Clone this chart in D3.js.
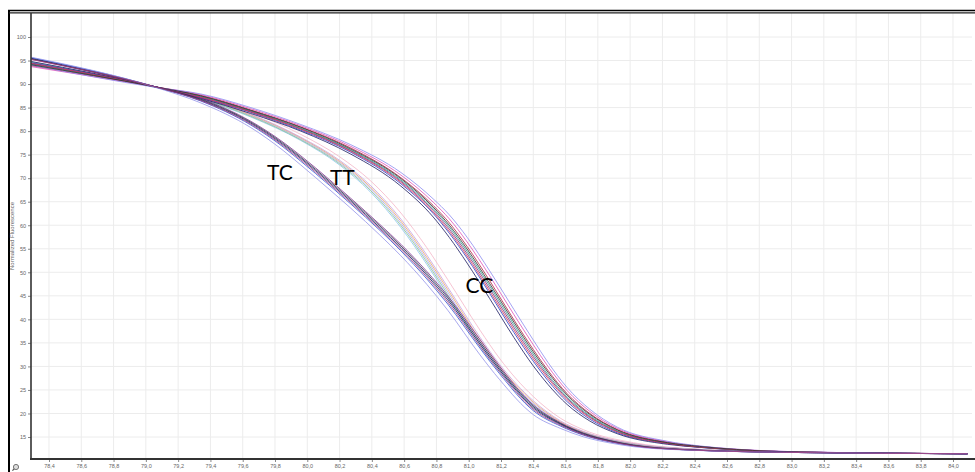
<!DOCTYPE html>
<html>
<head>
<meta charset="utf-8">
<script src="https://cdn.jsdelivr.net/npm/d3@7"></script>
<style>
  body { margin: 0; background: #fff; }
  svg { display: block; }
</style>
</head>
<body>
<svg id="chart" width="975" height="472"></svg>
<script>
// Axis tick values
const xTicks = [78.4, 78.6, 78.8, 79.0, 79.2, 79.4, 79.6, 79.8, 80.0, 80.2, 80.4, 80.6, 80.8,
                81.0, 81.2, 81.4, 81.6, 81.8, 82.0, 82.2, 82.4, 82.6, 82.8, 83.0, 83.2, 83.4,
                83.6, 83.8, 84.0];
const yTicks = [15, 20, 25, 30, 35, 40, 45, 50, 55, 60, 65, 70, 75, 80, 85, 90, 95, 100];

// Genotype CC melt curves (temperature °C -> normalized fluorescence)
const ccTemps = [78.29, 79.06, 79.34, 79.65, 79.96, 80.27, 80.58, 80.78, 80.88, 80.99, 81.13,
                 81.28, 81.40, 81.49, 81.61, 81.75, 81.92, 82.23, 82.43, 82.66, 83.05, 84.09];
const cc1 = [93.9, 89.4, 87.6, 84.5, 80.9, 76.4, 70.1, 64.2, 60.5, 55.5, 48.2, 39.9, 33.6, 29.2, 24.2, 20.0, 16.6, 13.9, 13.0, 12.35, 11.8, 11.45];
const cc2 = [94.5, 89.4, 87.1, 84.0, 80.2, 75.5, 68.8, 62.5, 58.3, 53.0, 45.5, 37.2, 31.1, 27.0, 22.5, 18.8, 15.9, 13.6, 12.8, 12.3, 11.8, 11.45];
const cc3 = [94.3, 89.4, 87.3, 84.2, 80.5, 75.85, 69.35, 63.15, 59.15, 53.95, 46.55, 38.3, 32.1, 27.9, 23.2, 19.3, 16.2, 13.7, 12.9, 12.3, 11.8, 11.45];
const cc4 = [93.7, 89.4, 87.75, 84.75, 81.15, 76.75, 70.65, 64.9, 61.35, 56.45, 49.25, 41.0, 34.6, 30.05, 24.85, 20.45, 16.85, 14.0, 13.05, 12.4, 11.85, 11.45];
const cc5 = [94.8, 89.4, 86.95, 83.75, 80.0, 75.1, 68.3, 61.75, 57.4, 51.95, 44.4, 36.15, 30.1, 26.2, 21.9, 18.4, 15.7, 13.45, 12.8, 12.25, 11.75, 11.45];
const cc6 = [94.2, 89.4, 87.4, 84.3, 80.6, 76.0, 69.6, 63.5, 59.6, 54.45, 47.1, 38.85, 32.6, 28.3, 23.5, 19.5, 16.3, 13.75, 12.9, 12.3, 11.8, 11.45];
const cc7 = [94.0, 89.3, 87.9, 85.0, 81.4, 77.1, 71.2, 65.6, 62.2, 57.45, 50.3, 42.1, 35.6, 30.9, 25.5, 20.9, 17.1, 14.1, 13.1, 12.4, 11.85, 11.45];
const cc8 = [94.4, 89.4, 87.2, 84.1, 80.4, 75.7, 69.1, 62.8, 58.7, 53.45, 46.0, 37.75, 31.6, 27.5, 22.9, 19.1, 16.1, 13.65, 12.85, 12.3, 11.8, 11.45];
const cc9 = [94.1, 89.4, 87.5, 84.4, 80.8, 76.2, 69.9, 63.85, 60.0, 54.95, 47.6, 39.4, 33.1, 28.8, 23.9, 19.8, 16.5, 13.8, 13.0, 12.35, 11.8, 11.45];

// Genotype TC melt curves
const tcTemps = [78.29, 79.06, 79.34, 79.65, 79.85, 79.96, 80.14, 80.27, 80.45, 80.58, 80.74,
                 80.87, 81.07, 81.19, 81.40, 81.57, 81.71, 81.88, 82.02, 82.33, 83.05, 84.09];
const tc1 = [95.5, 89.4, 86.6, 81.7, 77.15, 74.2, 69.0, 65.1, 59.5, 55.25, 49.4, 44.15, 34.75, 29.3, 21.2, 17.7, 15.6, 14.1, 13.2, 12.3, 11.7, 11.45];
const tc2 = [95.3, 89.4, 86.9, 82.1, 77.65, 74.75, 69.6, 65.7, 60.15, 55.95, 50.2, 45.0, 35.7, 30.1, 21.8, 18.0, 15.85, 14.2, 13.3, 12.35, 11.7, 11.45];
const tc3 = [95.6, 89.4, 86.4, 81.3, 76.65, 73.6, 68.4, 64.5, 58.9, 54.55, 48.6, 43.25, 33.85, 28.5, 20.6, 17.3, 15.4, 13.9, 13.1, 12.3, 11.7, 11.45];
const tc4 = [95.4, 89.4, 86.75, 81.9, 77.4, 74.45, 69.3, 65.4, 59.85, 55.6, 49.8, 44.6, 35.2, 29.7, 21.5, 17.85, 15.75, 14.15, 13.25, 12.35, 11.7, 11.45];
const tc5 = [95.7, 89.3, 86.0, 80.75, 75.9, 72.8, 67.5, 63.6, 57.9, 53.5, 47.45, 41.95, 32.45, 27.25, 19.75, 16.8, 15.05, 13.7, 12.95, 12.25, 11.7, 11.45];
const tc6 = [95.2, 89.4, 86.5, 81.5, 76.9, 73.9, 68.7, 64.8, 59.2, 54.9, 49.0, 43.7, 34.3, 28.9, 20.9, 17.5, 15.5, 14.0, 13.15, 12.3, 11.7, 11.45];

// Genotype TT melt curves
const ttTemps = [78.29, 79.06, 79.34, 79.65, 79.96, 80.20, 80.39, 80.58, 80.74, 80.87, 81.07,
                 81.19, 81.40, 81.57, 81.71, 82.02, 82.33, 83.05, 84.09];
const tt1 = [94.5, 89.4, 87.0, 83.3, 78.35, 73.3, 67.8, 60.4, 52.7, 45.8, 35.2, 29.7, 22.1, 18.0, 16.0, 13.5, 12.5, 11.7, 11.45];
const tt2 = [94.0, 89.4, 87.5, 84.0, 79.3, 74.55, 69.5, 62.6, 55.25, 48.45, 37.7, 31.75, 23.6, 18.95, 16.55, 13.8, 12.6, 11.75, 11.45];
const tt3 = [94.7, 89.3, 86.8, 83.0, 78.0, 72.8, 67.1, 59.5, 51.7, 44.75, 34.2, 28.9, 21.5, 17.6, 15.8, 13.4, 12.45, 11.7, 11.45];
const tt4 = [94.3, 89.4, 87.1, 83.45, 78.55, 73.55, 68.15, 60.85, 53.2, 46.35, 35.7, 30.1, 22.4, 18.2, 16.1, 13.55, 12.5, 11.7, 11.45];
const tt5 = [94.6, 89.3, 86.9, 83.15, 78.15, 73.05, 67.45, 59.95, 52.2, 45.25, 34.7, 29.3, 21.8, 17.8, 15.9, 13.45, 12.5, 11.7, 11.45];
const tt6 = [94.4, 89.4, 87.2, 83.6, 78.7, 73.8, 68.5, 61.3, 53.7, 46.85, 36.2, 30.5, 22.7, 18.4, 16.2, 13.6, 12.55, 11.7, 11.45];

// Genotype labels and where they sit (temperature, fluorescence at text baseline)
const groupLabels = ["TC", "TT", "CC"];
const labelTemps = [79.75, 80.14, 80.98];
const labelFluor = [69.6, 68.5, 45.6];

// Curve series: which temps, values and pen colour
const series = [
  { t: ttTemps, v: tt1, c: "#a9a6f0" },
  { t: ttTemps, v: tt2, c: "#f4b6c8" },
  { t: ttTemps, v: tt3, c: "#8cc4ec" },
  { t: ttTemps, v: tt4, c: "#e8a868" },
  { t: ttTemps, v: tt5, c: "#86c090" },
  { t: ttTemps, v: tt6, c: "#c8a0e0" },
  { t: ccTemps, v: cc1, c: "#b02040" },
  { t: ccTemps, v: cc2, c: "#2838c8" },
  { t: ccTemps, v: cc3, c: "#7a2a80" },
  { t: ccTemps, v: cc4, c: "#e050b8" },
  { t: ccTemps, v: cc5, c: "#1a1a60" },
  { t: ccTemps, v: cc6, c: "#2a9a88" },
  { t: ccTemps, v: cc7, c: "#8c8cf0" },
  { t: ccTemps, v: cc8, c: "#d03050" },
  { t: ccTemps, v: cc9, c: "#303030" },
  { t: tcTemps, v: tc1, c: "#151570" },
  { t: tcTemps, v: tc2, c: "#7a3090" },
  { t: tcTemps, v: tc3, c: "#3050d0" },
  { t: tcTemps, v: tc4, c: "#303040" },
  { t: tcTemps, v: tc5, c: "#9494ea" },
  { t: tcTemps, v: tc6, c: "#a03a78" }
];

const svg = d3.select("#chart");
const plotLeft = 31, plotRight = 972, plotTop = 13, plotBottom = 459;

const x = d3.scaleLinear().domain([78.2885, 84.1177]).range([plotLeft, plotRight]);
const y = d3.scaleLinear().domain([10.325, 105.1]).range([plotBottom, plotTop]);

// grid
const grid = svg.append("g");
grid.selectAll("line.vx").data(xTicks).join("line")
  .attr("x1", d => x(d)).attr("x2", d => x(d)).attr("y1", plotTop).attr("y2", plotBottom)
  .attr("stroke", "#ececec").attr("stroke-width", 1);
grid.selectAll("line.hy").data(yTicks).join("line")
  .attr("x1", plotLeft).attr("x2", plotRight).attr("y1", d => y(d)).attr("y2", d => y(d))
  .attr("stroke", "#ececec").attr("stroke-width", 1);

// outer frame
svg.append("line").attr("x1", 9).attr("x2", 9).attr("y1", 10).attr("y2", 472)
  .attr("stroke", "#000").attr("stroke-width", 2);
svg.append("line").attr("x1", 8).attr("x2", 975).attr("y1", 10.5).attr("y2", 10.5)
  .attr("stroke", "#000").attr("stroke-width", 1.4);
svg.append("line").attr("x1", 9).attr("x2", 975).attr("y1", 12.8).attr("y2", 12.8)
  .attr("stroke", "#222").attr("stroke-width", 1.2);

// curves
svg.append("clipPath").attr("id", "plotClip").append("rect")
  .attr("x", plotLeft).attr("y", plotTop)
  .attr("width", plotRight - plotLeft).attr("height", plotBottom - plotTop);

const line = d3.line().curve(d3.curveMonotoneX);
svg.append("g").attr("clip-path", "url(#plotClip)")
  .selectAll("path").data(series).join("path")
  .attr("d", s => line(s.t.map((t, i) => [x(t), y(s.v[i])])))
  .attr("fill", "none")
  .attr("stroke", s => s.c)
  .attr("stroke-width", 1)
  .attr("stroke-opacity", 0.8);

// axes
const fmtX = d => d.toFixed(1).replace(".", ",");
const xAxis = svg.append("g").attr("transform", `translate(0,${plotBottom})`)
  .call(d3.axisBottom(x).tickValues(xTicks).tickSize(3).tickPadding(2).tickFormat(fmtX));
const yAxis = svg.append("g").attr("transform", `translate(${plotLeft},0)`)
  .call(d3.axisLeft(y).tickValues(yTicks).tickSize(3).tickPadding(2).tickFormat(d3.format("d")));

[xAxis, yAxis].forEach(g => {
  g.select(".domain").remove();
  g.selectAll(".tick line").attr("stroke", "#888");
  g.selectAll(".tick text").attr("fill", "#666")
    .style("font-family", "Liberation Sans, Arial, sans-serif").style("font-size", "5.5px");
});

svg.append("line").attr("x1", plotLeft).attr("x2", plotLeft).attr("y1", plotTop).attr("y2", plotBottom + 1)
  .attr("stroke", "#333").attr("stroke-width", 1.6);
svg.append("line").attr("x1", plotLeft - 1).attr("x2", 975).attr("y1", plotBottom).attr("y2", plotBottom)
  .attr("stroke", "#333").attr("stroke-width", 2);

// axis title
svg.append("text")
  .attr("transform", "translate(14,236) rotate(-90)")
  .attr("text-anchor", "middle")
  .attr("fill", "#666")
  .style("font-family", "Liberation Sans, Arial, sans-serif")
  .style("font-size", "6px")
  .text("Normalized Fluorescence");

// zoom glyph in the corner
const icon = svg.append("g").attr("transform", "translate(16,467)");
icon.append("circle").attr("r", 2.6).attr("fill", "#ddd").attr("stroke", "#666").attr("stroke-width", 0.9);
icon.append("line").attr("x1", -1.8).attr("y1", 1.8).attr("x2", -3.6).attr("y2", 3.6)
  .attr("stroke", "#555").attr("stroke-width", 1.2);

// genotype labels
svg.append("g").selectAll("text").data(groupLabels).join("text")
  .attr("x", (d, i) => x(labelTemps[i]))
  .attr("y", (d, i) => y(labelFluor[i]))
  .attr("fill", "#000")
  .style("font-family", "Lato, 'Open Sans', sans-serif")
  .style("font-size", "21px")
  .text(d => d);
</script>
</body>
</html>
